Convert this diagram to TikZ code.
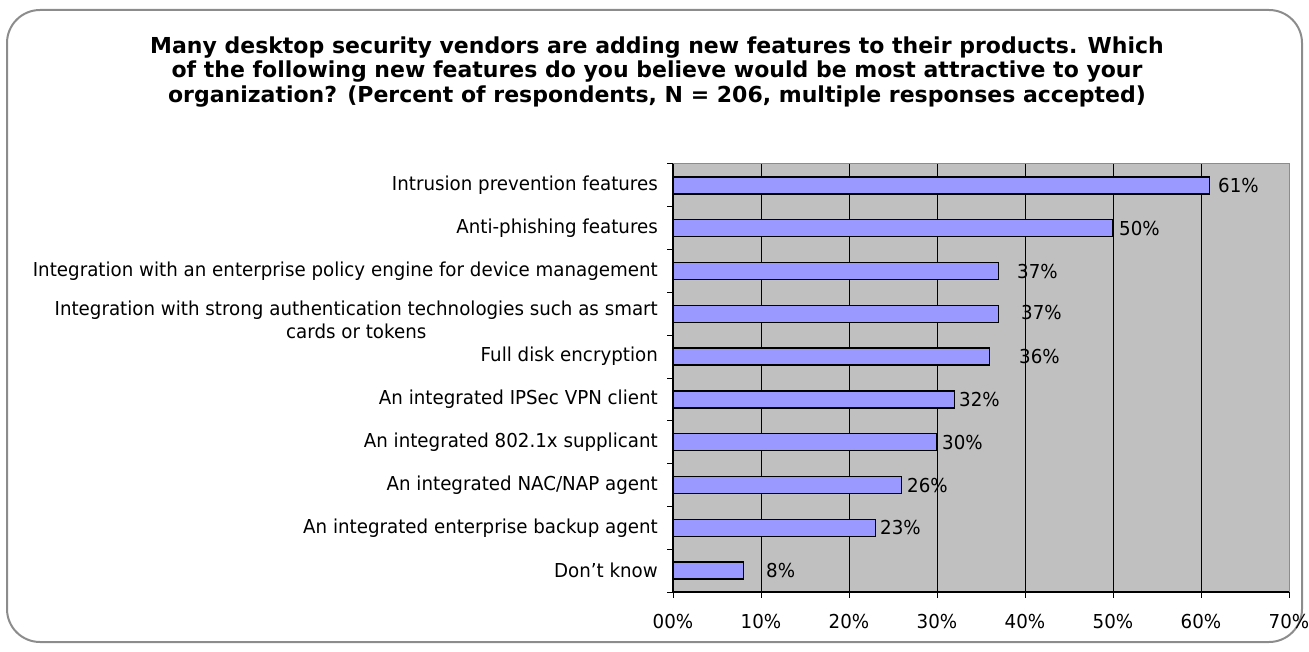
\documentclass[tikz,border=0pt]{standalone}
\usepackage{fontspec}
\setmainfont{DejaVu Sans}
\newfontfamily\lblfont{DejaVu Sans}[FakeStretch=0.95]
\definecolor{plotbg}{HTML}{C0C0C0}
\definecolor{barfill}{HTML}{9999FF}
\definecolor{framegray}{HTML}{8C8C8C}
\tikzset{
  lbl/.style={font=\lblfont\fontsize{19.2}{22}\selectfont, inner sep=0pt},
  titletext/.style={font=\bfseries\fontsize{22}{24.5}\selectfont, align=center, inner sep=0pt},
  barbox/.style={draw=black, line width=1.3pt, fill=barfill},
  gridline/.style={draw=black, line width=1pt},
  tickline/.style={draw=black, line width=1pt}
}
\begin{document}
\begin{tikzpicture}[x=1pt,y=-1pt]
\useasboundingbox (0,0) rectangle (1309,652);
% outer frame
\draw[framegray, line width=2pt, rounded corners=33pt] (7,10) rectangle (1302,642);
% title
\node[titletext] (title) at (657,72) {Many desktop security vendors are adding new features to their products. Which\\of the following new features do you believe would be most attractive to your\\organization? (Percent of respondents, N = 206, multiple responses accepted)};
% plot area
\fill[plotbg] (673,164) rectangle (1289,592);
\foreach \k in {1,...,6} {
  \draw[gridline] ({673+88*\k},164) -- ({673+88*\k},592);
}
\draw[framegray, line width=1pt] (673,164) -- (1289,164) -- (1289,592);
% category ticks
\foreach \i in {0,...,10} {
  \draw[tickline] (667,{164+42.8*\i}) -- (673,{164+42.8*\i});
}
% x ticks and labels
\foreach \k in {0,...,7} {
  \draw[tickline] ({673+88*\k},592) -- ({673+88*\k},598);
  \node[lbl] (xl\k) at ({673+88*\k},622) {\k0\%};
}
% bars
\foreach \i/\v/\lx/\ly/\txt in {
  0/61/1218/186/{Intrusion prevention features},
  1/50/1119/229/{Anti-phishing features},
  2/37/1017/272/{Integration with an enterprise policy engine for device management},
  4/36/1019/357/{Full disk encryption},
  5/32/959/400/{An integrated IPSec VPN client},
  6/30/942/443/{An integrated 802.1x supplicant},
  7/26/907/486/{An integrated NAC/NAP agent},
  8/23/880/528/{An integrated enterprise backup agent},
  9/8/766/571/{Don’t know}} {
  \draw[barbox] (673,{164+42.8*\i+21.4-8.5}) rectangle ({673+8.8*\v},{164+42.8*\i+21.4+8.5});
  \node[lbl, anchor=west] (val\i) at (\lx,\ly) {\v\%};
  \node[lbl, anchor=east] (cat\i) at (658,{164+42.8*\i+21.4}) {\txt};
}
\draw[barbox] (673,{164+42.8*3+21.4-8.5}) rectangle ({673+8.8*37},{164+42.8*3+21.4+8.5});
\node[lbl, anchor=west] (val3) at (1021,313) {37\%};
\node[lbl, anchor=east, align=center, font=\lblfont\fontsize{19.2}{22.5}\selectfont] (cat3) at (658,320) {Integration with strong authentication technologies such as smart\\cards or tokens};
% axes
\draw[black, line width=1.3pt] (673,164) -- (673,592);
\draw[black, line width=1.3pt] (673,592) -- (1289,592);
\end{tikzpicture}
\end{document}
